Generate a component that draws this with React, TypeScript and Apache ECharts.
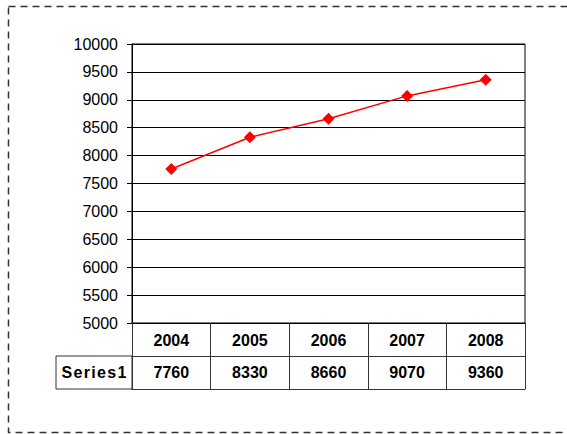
import React, { useEffect, useRef } from "react";
import * as echarts from "echarts";

const years = ["2004", "2005", "2006", "2007", "2008"];
const series1 = [7760, 8330, 8660, 9070, 9360];
const seriesName = "Series1";
const yMin = 5000;
const yMax = 10000;
const yStep = 500;

const W = 567;
const H = 434;
const tableLine = "#333";
const font = "'Liberation Sans', Arial, sans-serif";

export default function App() {
  const ref = useRef<HTMLDivElement>(null);

  useEffect(() => {
    if (!ref.current) return;
    const chart = echarts.init(ref.current, undefined, { renderer: "svg", width: W, height: H });
    const gridLeft = 132;
    const gridTop = 44;
    const gridRight = 42;
    const gridBottom = 111;
    const plotBottom = H - gridBottom;
    const rowH = 33;

    chart.setOption({
      animation: false,
      backgroundColor: "#fff",
      grid: {
        left: gridLeft,
        top: gridTop,
        right: gridRight,
        bottom: gridBottom,
        show: true,
        borderColor: "#000",
        borderWidth: 1,
        backgroundColor: "transparent",
      },
      xAxis: [
        {
          type: "category",
          data: years,
          boundaryGap: true,
          position: "bottom",
          axisLine: { show: true, lineStyle: { color: "#000", width: 1 } },
          axisTick: { show: true, interval: 0, length: rowH * 2, lineStyle: { color: tableLine } },
          axisLabel: {
            interval: 0,
            margin: 17,
            verticalAlign: "middle",
            fontFamily: font,
            fontSize: 16,
            fontWeight: "bold",
            color: "#000",
          },
          splitLine: { show: false },
        },
        {
          type: "category",
          data: years,
          boundaryGap: true,
          position: "bottom",
          offset: rowH,
          axisLine: { show: true, lineStyle: { color: tableLine, width: 1 } },
          axisTick: { show: false },
          axisLabel: {
            interval: 0,
            margin: 16,
            verticalAlign: "middle",
            fontFamily: font,
            fontSize: 16,
            fontWeight: "bold",
            color: "#000",
            formatter: (_v: string, i: number) => String(series1[i]),
          },
          splitLine: { show: false },
        },
        {
          type: "category",
          data: years,
          boundaryGap: true,
          position: "bottom",
          offset: rowH * 2,
          axisLine: { show: true, lineStyle: { color: tableLine, width: 1 } },
          axisTick: { show: false },
          axisLabel: { show: false },
          splitLine: { show: false },
        },
      ],
      yAxis: {
        type: "value",
        min: yMin,
        max: yMax,
        interval: yStep,
        axisLine: { show: true, lineStyle: { color: "#000", width: 1 } },
        axisTick: { show: true, length: 5, lineStyle: { color: "#000" } },
        axisLabel: {
          margin: 14,
          fontFamily: font,
          fontSize: 16,
          color: "#000",
          formatter: (v: number) => String(v),
        },
        splitLine: { show: true, lineStyle: { color: "#000", width: 1 } },
      },
      series: [
        {
          name: seriesName,
          type: "line",
          xAxisIndex: 0,
          data: series1,
          symbol: "diamond",
          symbolSize: 12,
          lineStyle: { color: "#ff0000", width: 1.5 },
          itemStyle: { color: "#ff0000" },
        },
      ],
      graphic: [
        {
          type: "rect",
          shape: { x: 8.5, y: 6.5, width: 580, height: 426 },
          style: { fill: "none", stroke: "#333", lineWidth: 1.5, lineDash: [7, 5] },
          silent: true,
        },
        {
          type: "rect",
          shape: { x: 56, y: plotBottom + rowH, width: gridLeft - 56, height: rowH },
          style: { fill: "none", stroke: tableLine, lineWidth: 1 },
          silent: true,
        },
        {
          type: "text",
          x: 94,
          y: plotBottom + rowH * 1.5,
          style: {
            text: "S e r i e s 1".replace(/ /g, "\u200A"),
            fontFamily: font,
            fontSize: 16,
            fontWeight: "bold",
            fill: "#000",
            align: "center",
            verticalAlign: "middle",
          },
          silent: true,
        },
      ],
    });

    return () => chart.dispose();
  }, []);

  return (
    <div
      ref={ref}
      style={{ position: "fixed", left: 0, top: 0, width: W, height: H, background: "#fff" }}
    />
  );
}
